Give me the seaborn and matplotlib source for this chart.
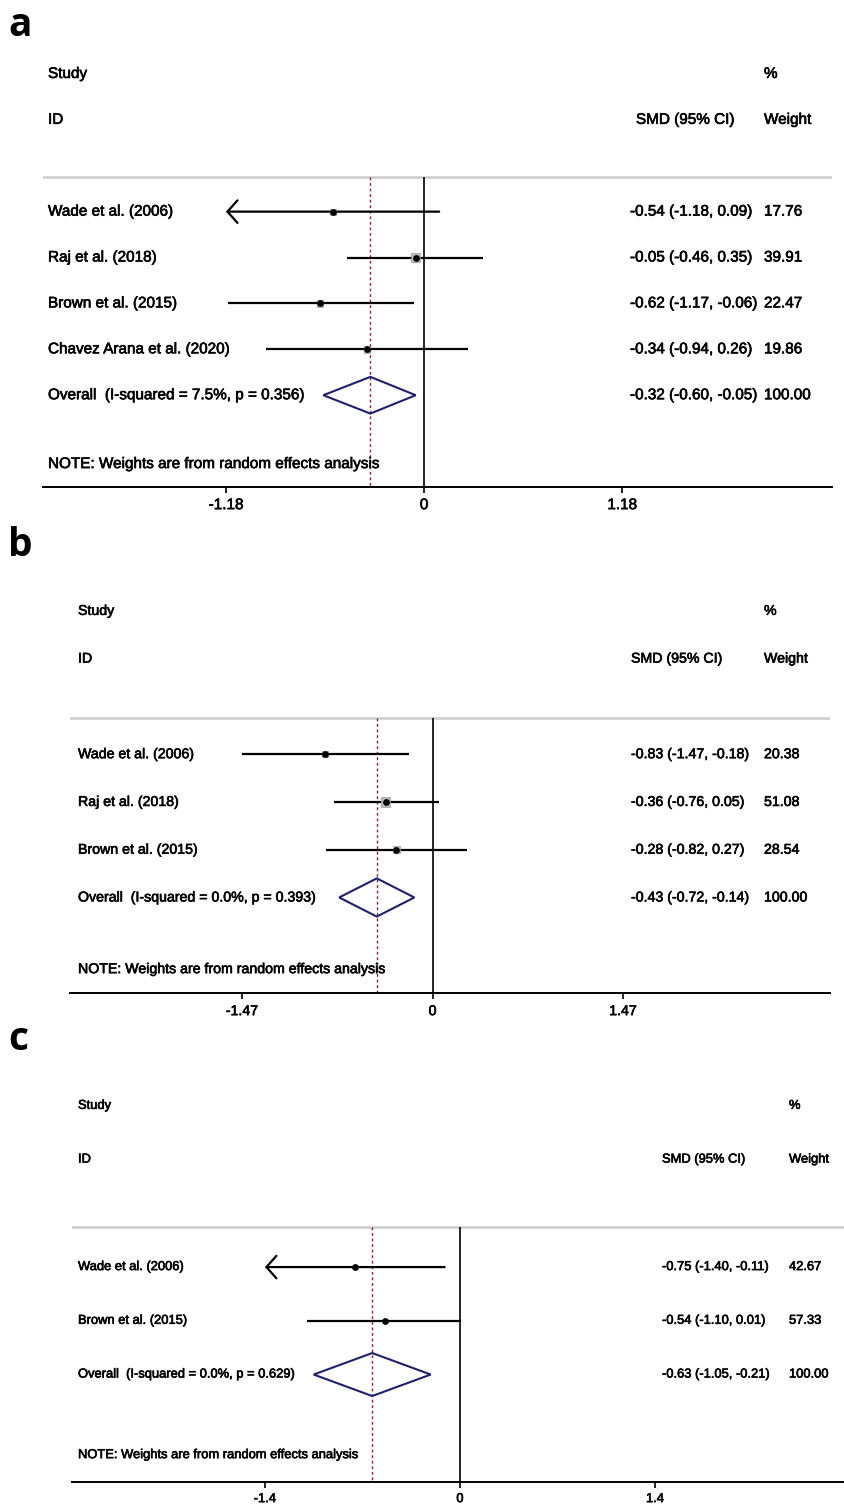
import matplotlib
matplotlib.use("Agg")
import matplotlib.pyplot as plt
import matplotlib.transforms as mtransforms
import matplotlib.patheffects as pe
import numpy as np
import pandas as pd
import seaborn as sns

# ---- data (panel a) ----
STUDIES_A = ["Wade et al. (2006)", "Raj et al. (2018)", "Brown et al. (2015)",
             "Chavez Arana et al. (2020)"]
SMD_A = [-0.54, -0.05, -0.62, -0.34]
LO_A = [-1.18, -0.46, -1.17, -0.94]
HI_A = [0.09, 0.35, -0.06, 0.26]
WEIGHT_A = [17.76, 39.91, 22.47, 19.86]
ARROW_A = [True, False, False, False]
OVERALL_A = [-0.32, -0.60, -0.05]
HET_A = "Overall  (I-squared = 7.5%, p = 0.356)"
TICKS_A = [-1.18, 0, 1.18]
TICKLABELS_A = ["-1.18", "0", "1.18"]

# ---- data (panel b) ----
STUDIES_B = ["Wade et al. (2006)", "Raj et al. (2018)", "Brown et al. (2015)"]
SMD_B = [-0.83, -0.36, -0.28]
LO_B = [-1.47, -0.76, -0.82]
HI_B = [-0.18, 0.05, 0.27]
WEIGHT_B = [20.38, 51.08, 28.54]
ARROW_B = [False, False, False]
OVERALL_B = [-0.43, -0.72, -0.14]
HET_B = "Overall  (I-squared = 0.0%, p = 0.393)"
TICKS_B = [-1.47, 0, 1.47]
TICKLABELS_B = ["-1.47", "0", "1.47"]

# ---- data (panel c) ----
STUDIES_C = ["Wade et al. (2006)", "Brown et al. (2015)"]
SMD_C = [-0.75, -0.54]
LO_C = [-1.40, -1.10]
HI_C = [-0.11, 0.01]
WEIGHT_C = [42.67, 57.33]
ARROW_C = [True, False]
OVERALL_C = [-0.63, -1.05, -0.21]
HET_C = "Overall  (I-squared = 0.0%, p = 0.629)"
TICKS_C = [-1.4, 0, 1.4]
TICKLABELS_C = ["-1.4", "0", "1.4"]

NOTE = "NOTE: Weights are from random effects analysis"

W, H = 845, 1508

# layout in pixels: axes box, x-limits, text columns, font size, letter position
LAYOUT = [
    dict(letter="a", left=43, right=832, top=51, bottom=487, xlim=(-2.27, 2.43),
         col_label=48, col_smd=630, col_head=636, col_w=764, fs=11, box=1.45, letter_y=26),
    dict(letter="b", left=70, right=830, top=587, bottom=993, xlim=(-2.797, 3.067),
         col_label=78, col_smd=631, col_head=631, col_w=764, fs=10.2, box=1.3, letter_y=546),
    dict(letter="c", left=72, right=845, top=1079, bottom=1482, xlim=(-2.785, 2.764),
         col_label=78, col_smd=662, col_head=662, col_w=789, fs=9.3, box=0.55, letter_y=1040),
]

sns.set_theme(style="white")
plt.rcParams["font.family"] = ["Liberation Sans", "DejaVu Sans"]

fig = plt.figure(figsize=(W / 100, H / 100), dpi=100)

# scanned-looking heavier text
HEAVY = [pe.withStroke(linewidth=0.45, foreground="black")]


def forest(lay, studies, smd, lo, hi, weight, arrows, overall, het, ticks, ticklabels):
    ax = fig.add_axes([lay["left"] / W, 1 - lay["bottom"] / H,
                       (lay["right"] - lay["left"]) / W, (lay["bottom"] - lay["top"]) / H])
    n = len(studies)
    rows = np.arange(n)
    ax.set_xlim(*lay["xlim"])
    ax.set_ylim(n + 2, -3.5)
    fs = lay["fs"]

    def fx(px):
        return (px - lay["left"]) / (lay["right"] - lay["left"])

    tr = mtransforms.blended_transform_factory(ax.transAxes, ax.transData)

    # separator and reference lines
    ax.axhline(-0.75, color="#cccccc", lw=1.8, zorder=1)
    ax.vlines(0, -0.75, n + 2, color="black", lw=1.2, zorder=2)
    ax.vlines(overall[0], -0.75, n + 2, color="#8b2335", lw=1.0,
              linestyles=(0, (2, 2)), zorder=2)

    # confidence intervals
    for i in range(n):
        if arrows[i]:
            ax.annotate("", xy=(lo[i], i), xytext=(hi[i], i),
                        arrowprops=dict(arrowstyle="->,head_length=0.4,head_width=0.45",
                                        lw=1.6, color="black", shrinkA=0, shrinkB=0,
                                        mutation_scale=18), zorder=3)
        else:
            ax.hlines(i, lo[i], hi[i], color="black", lw=1.6, zorder=3)

    # weight boxes and point estimates
    side = lay["box"] * np.sqrt(np.array(weight)) * 0.72
    ax.scatter(smd, rows, marker="s", s=side ** 2, color="#bdbdbd",
               edgecolor="#9a9a9a", linewidth=0.5, zorder=4)
    df = pd.DataFrame({"smd": smd, "row": rows})
    sns.scatterplot(data=df, x="smd", y="row", color="black", s=24,
                    linewidth=0, zorder=5, ax=ax, legend=False)

    # overall diamond
    est, olo, ohi = overall
    ax.fill([olo, est, ohi, est, olo], [n, n - 0.4, n, n + 0.4, n],
            facecolor="none", edgecolor="#1f1f6b", lw=1.5, zorder=4)

    # text columns
    kw = dict(transform=tr, fontsize=fs, va="center", ha="left", color="black",
              path_effects=HEAVY)
    ax.text(fx(lay["col_label"]), -3, "Study", **kw)
    ax.text(fx(lay["col_w"]), -3, "%", **kw)
    ax.text(fx(lay["col_label"]), -2, "ID", **kw)
    ax.text(fx(lay["col_head"]), -2, "SMD (95% CI)", **kw)
    ax.text(fx(lay["col_w"]), -2, "Weight", **kw)
    for i in range(n):
        ax.text(fx(lay["col_label"]), i, studies[i], **kw)
        ax.text(fx(lay["col_smd"]), i, f"{smd[i]:.2f} ({lo[i]:.2f}, {hi[i]:.2f})", **kw)
        ax.text(fx(lay["col_w"]), i, f"{weight[i]:.2f}", **kw)
    ax.text(fx(lay["col_label"]), n, het, **kw)
    ax.text(fx(lay["col_smd"]), n, f"{est:.2f} ({olo:.2f}, {ohi:.2f})", **kw)
    ax.text(fx(lay["col_w"]), n, f"{sum(weight):.2f}", **kw)
    ax.text(fx(lay["col_label"]), n + 1.5, NOTE, **kw)

    # axis
    for s in ["top", "left", "right"]:
        ax.spines[s].set_visible(False)
    ax.spines["bottom"].set_color("black")
    ax.spines["bottom"].set_linewidth(1.4)
    ax.set_yticks([])
    ax.set_xticks(ticks)
    ax.set_xticklabels(ticklabels)
    ax.tick_params(axis="x", direction="out", length=4, width=1.2, pad=4,
                   labelsize=fs, colors="black", bottom=True)
    for t in ax.get_xticklabels():
        t.set_path_effects(HEAVY)
    ax.set_xlabel("")
    ax.set_ylabel("")
    ax.patch.set_alpha(0)

    fig.text(8 / W, 1 - lay["letter_y"] / H, lay["letter"], fontsize=28, color="black",
             fontweight="bold", family=["Open Sans", "DejaVu Sans"], va="center", ha="left")


forest(LAYOUT[0], STUDIES_A, SMD_A, LO_A, HI_A, WEIGHT_A, ARROW_A, OVERALL_A, HET_A,
       TICKS_A, TICKLABELS_A)
forest(LAYOUT[1], STUDIES_B, SMD_B, LO_B, HI_B, WEIGHT_B, ARROW_B, OVERALL_B, HET_B,
       TICKS_B, TICKLABELS_B)
forest(LAYOUT[2], STUDIES_C, SMD_C, LO_C, HI_C, WEIGHT_C, ARROW_C, OVERALL_C, HET_C,
       TICKS_C, TICKLABELS_C)

fig.savefig("out.png", dpi=100, facecolor="white")
